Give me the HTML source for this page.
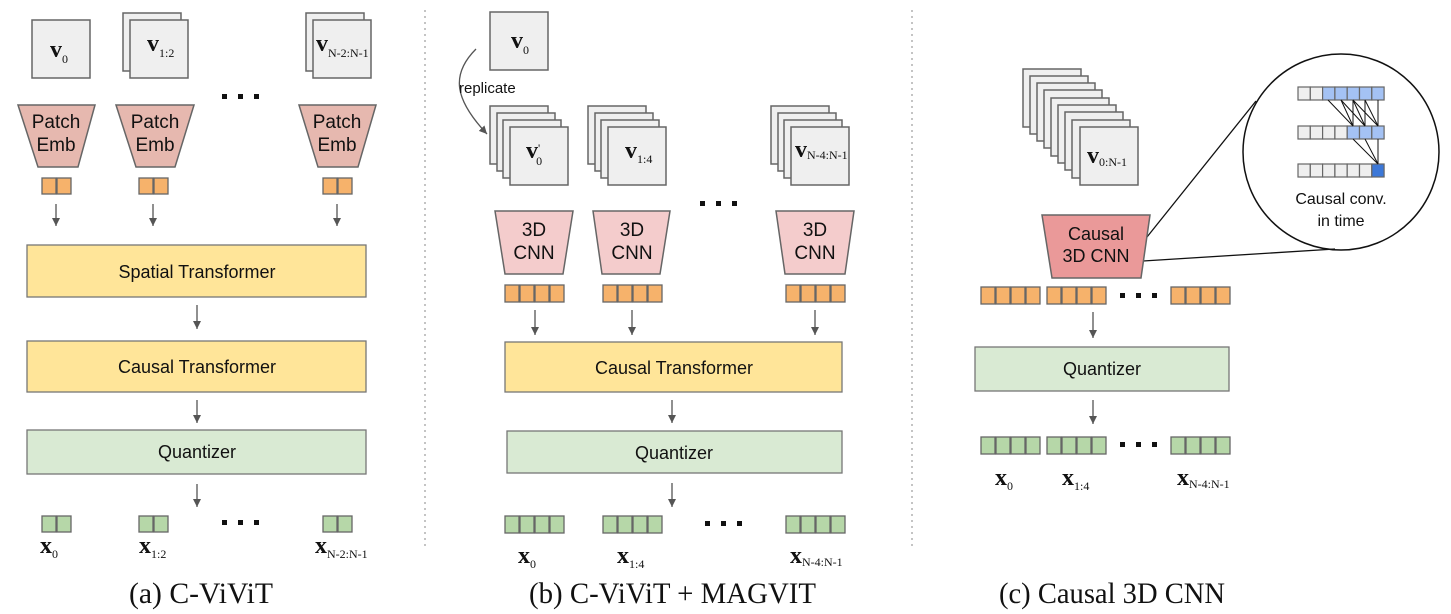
<!DOCTYPE html>
<html><head><meta charset="utf-8"><style>
html,body{margin:0;padding:0;background:#fff}
svg{display:block}
.s{font-family:"Liberation Sans",sans-serif;fill:#111}
.v{font-family:"Liberation Serif",serif;font-weight:bold;font-size:24px;fill:#111}
.sub{font-family:"Liberation Serif",serif;font-size:12px;font-weight:normal}
.cap{font-family:"Liberation Serif",serif;font-size:30px;fill:#111}
</style></head><body>
<svg width="1451" height="614" viewBox="0 0 1451 614" xmlns="http://www.w3.org/2000/svg">
<defs>
<marker id="ar" markerWidth="8" markerHeight="8" refX="8" refY="4" orient="auto" markerUnits="userSpaceOnUse">
<path d="M0,0 L8,4 L0,8 Z" fill="#555"/></marker>
<rect id="fr" width="58" height="58" fill="#efefef" stroke="#666" stroke-width="1.5"/>
<g id="o2"><rect x="0" y="0" width="14" height="16" fill="#f6b26b" stroke="#666" stroke-width="1.3"/><rect x="15" y="0" width="14" height="16" fill="#f6b26b" stroke="#666" stroke-width="1.3"/></g>
<g id="g2"><rect x="0" y="0" width="14" height="16" fill="#b6d7a8" stroke="#666" stroke-width="1.3"/><rect x="15" y="0" width="14" height="16" fill="#b6d7a8" stroke="#666" stroke-width="1.3"/></g>
<g id="o4"><rect x="0" y="0" width="14" height="17" fill="#f6b26b" stroke="#666" stroke-width="1.3"/><rect x="15" y="0" width="14" height="17" fill="#f6b26b" stroke="#666" stroke-width="1.3"/><rect x="30" y="0" width="14" height="17" fill="#f6b26b" stroke="#666" stroke-width="1.3"/><rect x="45" y="0" width="14" height="17" fill="#f6b26b" stroke="#666" stroke-width="1.3"/></g>
<g id="g4"><rect x="0" y="0" width="14" height="17" fill="#b6d7a8" stroke="#666" stroke-width="1.3"/><rect x="15" y="0" width="14" height="17" fill="#b6d7a8" stroke="#666" stroke-width="1.3"/><rect x="30" y="0" width="14" height="17" fill="#b6d7a8" stroke="#666" stroke-width="1.3"/><rect x="45" y="0" width="14" height="17" fill="#b6d7a8" stroke="#666" stroke-width="1.3"/></g>
<g id="dots"><rect x="0" y="0" width="5" height="5" fill="#111"/><rect x="16" y="0" width="5" height="5" fill="#111"/><rect x="32" y="0" width="5" height="5" fill="#111"/></g>
<g id="st4"><use href="#fr" x="0" y="0"/><use href="#fr" x="7" y="7"/><use href="#fr" x="13" y="14"/><use href="#fr" x="20" y="21"/></g>
</defs>

<line x1="425" y1="10" x2="425" y2="550" stroke="#888" stroke-dasharray="2,4"/>
<line x1="912" y1="10" x2="912" y2="550" stroke="#888" stroke-dasharray="2,4"/>

<!-- PANEL A -->
<use href="#fr" x="32" y="20"/>
<text x="50" y="57" class="v">v<tspan class="sub" dy="6">0</tspan></text>
<use href="#fr" x="123" y="13"/><use href="#fr" x="130" y="20"/>
<text x="147" y="51" class="v">v<tspan class="sub" dy="6">1:2</tspan></text>
<use href="#fr" x="306" y="13"/><use href="#fr" x="313" y="20"/>
<text x="316" y="51" class="v">v<tspan class="sub" dy="6">N-2:N-1</tspan></text>
<use href="#dots" x="222" y="94"/>

<g fill="#e6b8af" stroke="#666" stroke-width="1.5">
<polygon points="18,105 95,105 78,167 38,167"/>
<polygon points="116,105 194,105 175,167 136,167"/>
<polygon points="299,105 376,105 358,167 318,167"/>
</g>
<g class="s" font-size="19" text-anchor="middle">
<text x="56" y="128">Patch</text><text x="56" y="151">Emb</text>
<text x="155" y="128">Patch</text><text x="155" y="151">Emb</text>
<text x="337" y="128">Patch</text><text x="337" y="151">Emb</text>
</g>
<use href="#o2" x="42" y="178"/><use href="#o2" x="139" y="178"/><use href="#o2" x="323" y="178"/>
<g stroke="#555" stroke-width="1.3" marker-end="url(#ar)">
<line x1="56" y1="204" x2="56" y2="226"/><line x1="153" y1="204" x2="153" y2="226"/><line x1="337" y1="204" x2="337" y2="226"/>
<line x1="197" y1="305" x2="197" y2="329"/><line x1="197" y1="400" x2="197" y2="423"/><line x1="197" y1="484" x2="197" y2="507"/>
</g>
<rect x="27" y="245" width="339" height="52" fill="#ffe599" stroke="#777" stroke-width="1.3"/>
<text x="197" y="278" class="s" font-size="18" text-anchor="middle">Spatial Transformer</text>
<rect x="27" y="341" width="339" height="51" fill="#ffe599" stroke="#777" stroke-width="1.3"/>
<text x="197" y="373" class="s" font-size="18" text-anchor="middle">Causal Transformer</text>
<rect x="27" y="430" width="339" height="44" fill="#d9ead3" stroke="#777" stroke-width="1.3"/>
<text x="197" y="458" class="s" font-size="18" text-anchor="middle">Quantizer</text>
<use href="#g2" x="42" y="516"/><use href="#g2" x="139" y="516"/><use href="#g2" x="323" y="516"/>
<use href="#dots" x="222" y="520"/>
<text x="40" y="553" class="v" font-size="21">x<tspan class="sub" dy="5">0</tspan></text>
<text x="139" y="553" class="v" font-size="21">x<tspan class="sub" dy="5">1:2</tspan></text>
<text x="315" y="553" class="v" font-size="21">x<tspan class="sub" dy="5">N-2:N-1</tspan></text>
<text x="129" y="603" class="cap" textLength="144" lengthAdjust="spacingAndGlyphs">(a) C-ViViT</text>

<!-- PANEL B -->
<use href="#fr" x="490" y="12"/>
<text x="511" y="48" class="v">v<tspan class="sub" dy="6">0</tspan></text>
<path d="M476,49 C450,75 455,100 487,134" fill="none" stroke="#555" stroke-width="1.3" marker-end="url(#ar)"/>
<text x="459" y="93" class="s" font-size="15" fill="#333">replicate</text>
<use href="#st4" x="490" y="106"/>
<text x="526" y="158" class="v">v<tspan class="sub" dy="-6" font-size="14">'</tspan><tspan class="sub" dx="-4" dy="13">0</tspan></text>
<use href="#st4" x="588" y="106"/>
<text x="625" y="158" class="v">v<tspan class="sub" dy="5">1:4</tspan></text>
<use href="#st4" x="771" y="106"/>
<text x="795" y="157" class="v">v<tspan class="sub" dy="2">N-4:N-1</tspan></text>
<use href="#dots" x="700" y="201"/>
<g fill="#f4cccc" stroke="#666" stroke-width="1.5">
<polygon points="495,211 573,211 563,274 505,274"/>
<polygon points="593,211 670,211 660,274 602,274"/>
<polygon points="776,211 854,211 845,274 785,274"/>
</g>
<g class="s" font-size="19" text-anchor="middle">
<text x="534" y="236">3D</text><text x="534" y="259">CNN</text>
<text x="632" y="236">3D</text><text x="632" y="259">CNN</text>
<text x="815" y="236">3D</text><text x="815" y="259">CNN</text>
</g>
<use href="#o4" x="505" y="285"/><use href="#o4" x="603" y="285"/><use href="#o4" x="786" y="285"/>
<g stroke="#555" stroke-width="1.3" marker-end="url(#ar)">
<line x1="535" y1="310" x2="535" y2="335"/><line x1="632" y1="310" x2="632" y2="335"/><line x1="815" y1="310" x2="815" y2="335"/>
<line x1="672" y1="400" x2="672" y2="423"/><line x1="672" y1="483" x2="672" y2="507"/>
</g>
<rect x="505" y="342" width="337" height="50" fill="#ffe599" stroke="#777" stroke-width="1.3"/>
<text x="674" y="374" class="s" font-size="18" text-anchor="middle">Causal Transformer</text>
<rect x="507" y="431" width="335" height="42" fill="#d9ead3" stroke="#777" stroke-width="1.3"/>
<text x="674" y="459" class="s" font-size="18" text-anchor="middle">Quantizer</text>
<use href="#g4" x="505" y="516"/><use href="#g4" x="603" y="516"/><use href="#g4" x="786" y="516"/>
<use href="#dots" x="705" y="521"/>
<text x="518" y="563" class="v" font-size="21">x<tspan class="sub" dy="5">0</tspan></text>
<text x="617" y="563" class="v" font-size="21">x<tspan class="sub" dy="5">1:4</tspan></text>
<text x="790" y="563" class="v" font-size="21">x<tspan class="sub" dy="3">N-4:N-1</tspan></text>
<text x="529" y="603" class="cap" textLength="287" lengthAdjust="spacingAndGlyphs">(b) C-ViViT + MAGVIT</text>

<!-- PANEL C -->
<use href="#fr" x="1023" y="69"/><use href="#fr" x="1030" y="76"/><use href="#fr" x="1037" y="83"/><use href="#fr" x="1044" y="90"/><use href="#fr" x="1051" y="98"/><use href="#fr" x="1058" y="105"/><use href="#fr" x="1065" y="112"/><use href="#fr" x="1072" y="120"/><use href="#fr" x="1080" y="127"/>
<text x="1087" y="163" class="v" font-size="22">v<tspan class="sub" dy="3">0:N-1</tspan></text>
<circle cx="1341" cy="152" r="98" fill="#fff" stroke="#111" stroke-width="1.5"/>
<line x1="1147" y1="237" x2="1256" y2="101" stroke="#111" stroke-width="1.3"/>
<line x1="1143" y1="261" x2="1335" y2="249" stroke="#111" stroke-width="1.3"/>
<polygon points="1042,215 1150,215 1141,278 1052,278" fill="#ea9999" stroke="#666" stroke-width="1.5"/>
<g class="s" font-size="18" text-anchor="middle"><text x="1096" y="240">Causal</text><text x="1096" y="262">3D CNN</text></g>
<g stroke="#666" stroke-width="1.2">
<rect x="1298" y="87" width="12.3" height="13" fill="#efefef"/><rect x="1310.3" y="87" width="12.3" height="13" fill="#efefef"/><rect x="1322.6" y="87" width="12.3" height="13" fill="#a4c2f4"/><rect x="1334.9" y="87" width="12.3" height="13" fill="#a4c2f4"/><rect x="1347.2" y="87" width="12.3" height="13" fill="#a4c2f4"/><rect x="1359.5" y="87" width="12.3" height="13" fill="#a4c2f4"/><rect x="1371.8" y="87" width="12.3" height="13" fill="#a4c2f4"/>
<rect x="1298" y="126" width="12.3" height="13" fill="#efefef"/><rect x="1310.3" y="126" width="12.3" height="13" fill="#efefef"/><rect x="1322.6" y="126" width="12.3" height="13" fill="#efefef"/><rect x="1334.9" y="126" width="12.3" height="13" fill="#efefef"/><rect x="1347.2" y="126" width="12.3" height="13" fill="#a4c2f4"/><rect x="1359.5" y="126" width="12.3" height="13" fill="#a4c2f4"/><rect x="1371.8" y="126" width="12.3" height="13" fill="#a4c2f4"/>
<rect x="1298" y="164" width="12.3" height="13" fill="#efefef"/><rect x="1310.3" y="164" width="12.3" height="13" fill="#efefef"/><rect x="1322.6" y="164" width="12.3" height="13" fill="#efefef"/><rect x="1334.9" y="164" width="12.3" height="13" fill="#efefef"/><rect x="1347.2" y="164" width="12.3" height="13" fill="#efefef"/><rect x="1359.5" y="164" width="12.3" height="13" fill="#efefef"/><rect x="1371.8" y="164" width="12.3" height="13" fill="#3c78d8"/>
</g>
<g stroke="#111" stroke-width="1">
<line x1="1328" y1="100" x2="1353" y2="126"/><line x1="1341" y1="100" x2="1353" y2="126"/><line x1="1353" y1="100" x2="1353" y2="126"/>
<line x1="1341" y1="100" x2="1365" y2="126"/><line x1="1353" y1="100" x2="1365" y2="126"/><line x1="1365" y1="100" x2="1365" y2="126"/>
<line x1="1353" y1="100" x2="1378" y2="126"/><line x1="1365" y1="100" x2="1378" y2="126"/><line x1="1378" y1="100" x2="1378" y2="126"/>
<line x1="1353" y1="139" x2="1378" y2="164"/><line x1="1365" y1="139" x2="1378" y2="164"/><line x1="1378" y1="139" x2="1378" y2="164"/>
</g>
<g class="s" font-size="16" text-anchor="middle"><text x="1341" y="204">Causal conv.</text><text x="1341" y="226">in time</text></g>
<use href="#o4" x="981" y="287"/><use href="#o4" x="1047" y="287"/><use href="#o4" x="1171" y="287"/>
<use href="#dots" x="1120" y="293"/>
<g stroke="#555" stroke-width="1.3" marker-end="url(#ar)">
<line x1="1093" y1="312" x2="1093" y2="338"/><line x1="1093" y1="400" x2="1093" y2="424"/>
</g>
<rect x="975" y="347" width="254" height="44" fill="#d9ead3" stroke="#777" stroke-width="1.3"/>
<text x="1102" y="375" class="s" font-size="18" text-anchor="middle">Quantizer</text>
<use href="#g4" x="981" y="437"/><use href="#g4" x="1047" y="437"/><use href="#g4" x="1171" y="437"/>
<use href="#dots" x="1120" y="442"/>
<text x="995" y="485" class="v" font-size="21">x<tspan class="sub" dy="5">0</tspan></text>
<text x="1062" y="485" class="v" font-size="21">x<tspan class="sub" dy="5">1:4</tspan></text>
<text x="1177" y="485" class="v" font-size="21">x<tspan class="sub" dy="3">N-4:N-1</tspan></text>
<text x="999" y="603" class="cap" textLength="226" lengthAdjust="spacingAndGlyphs">(c) Causal 3D CNN</text>
</svg>
</body></html>
